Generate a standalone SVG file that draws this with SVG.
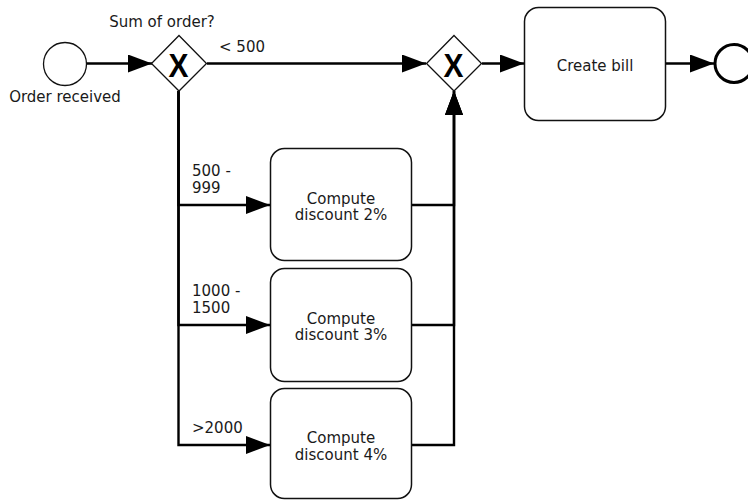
<svg xmlns="http://www.w3.org/2000/svg" width="748" height="500" viewBox="0 0 748 500">
  <style>
    .lbl { font-family: "DejaVu Sans", "Liberation Sans", sans-serif; font-size: 15px; fill: #1a1a1a; }
    .mid { text-anchor: middle; }
    .task { fill: #ffffff; stroke: #111; stroke-width: 1.5; }
    .gw { fill: #ffffff; stroke: #111; stroke-width: 1.3; }
    .gwx { font-family: "Liberation Sans", Arial, sans-serif; font-weight: bold; font-size: 34px; fill: #000; text-anchor: middle; }
    .flow { fill: none; stroke: #000; stroke-width: 2.4; marker-end: url(#arrow); }
  </style>
  <defs>
    <marker id="arrow" markerUnits="userSpaceOnUse" markerWidth="24" markerHeight="18" refX="24" refY="9" orient="auto">
      <path d="M0,0 L24,9 L0,18 z" fill="#000"/>
    </marker>
  </defs>
  <rect width="748" height="500" fill="#ffffff"/>

  <!-- sequence flows -->
  <g id="connectors">
    <path class="flow" d="M87,63.5 H152"/>
    <path class="flow" d="M207,63.5 H426"/>
    <path class="flow" d="M482,63.5 H524"/>
    <path class="flow" d="M666,63.5 H714"/>
    <path class="flow" d="M178.5,91 V205 H270"/>
    <path class="flow" d="M178.5,91 V325 H270"/>
    <path class="flow" d="M178.5,91 V445 H270"/>
    <path class="flow" d="M412,205 H454 V91"/>
    <path class="flow" d="M412,325 H454 V91"/>
    <path class="flow" d="M412,445 H454 V91"/>
    <text class="lbl" x="219" y="51.5">&lt; 500</text>
    <text class="lbl" x="192" y="176">500 -</text>
    <text class="lbl" x="192" y="192.5">999</text>
    <text class="lbl" x="192" y="296">1000 -</text>
    <text class="lbl" x="192" y="312.5">1500</text>
    <text class="lbl" x="192" y="432.5">&gt;2000</text>
  </g>

  <g id="start">
    <circle cx="65" cy="64" r="21.5" fill="#fff" stroke="#111" stroke-width="1.3"/>
    <text class="lbl mid" x="65" y="101.5">Order received</text>
  </g>

  <g id="gateway-sum">
    <polygon class="gw" points="179,35.5 206.5,63.5 179,91 151.5,63.5"/>
    <text class="gwx" transform="translate(178.5,76.5) scale(0.88,1)">X</text>
    <text class="lbl mid" x="162" y="27">Sum of order?</text>
  </g>

  <g id="gateway-merge">
    <polygon class="gw" points="454,35.5 481.5,63.5 454,91 426.5,63.5"/>
    <text class="gwx" transform="translate(453.5,76.5) scale(0.88,1)">X</text>
  </g>

  <g id="task-bill">
    <rect class="task" x="524.5" y="7.5" width="141" height="113" rx="14"/>
    <text class="lbl mid" x="595" y="70.5">Create bill</text>
  </g>

  <g id="task-discount-2">
    <rect class="task" x="270.5" y="148.5" width="141" height="112" rx="14"/>
    <text class="lbl mid" x="341" y="203.5">Compute</text>
    <text class="lbl mid" x="341" y="220">discount 2%</text>
  </g>

  <g id="task-discount-3">
    <rect class="task" x="270.5" y="268.5" width="141" height="113" rx="14"/>
    <text class="lbl mid" x="341" y="323.5">Compute</text>
    <text class="lbl mid" x="341" y="340">discount 3%</text>
  </g>

  <g id="task-discount-4">
    <rect class="task" x="270.5" y="388.5" width="141" height="110" rx="14"/>
    <text class="lbl mid" x="341" y="443">Compute</text>
    <text class="lbl mid" x="341" y="459.5">discount 4%</text>
  </g>

  <g id="end">
    <circle cx="734" cy="63.5" r="19" fill="#fff" stroke="#000" stroke-width="3"/>
  </g>
</svg>
